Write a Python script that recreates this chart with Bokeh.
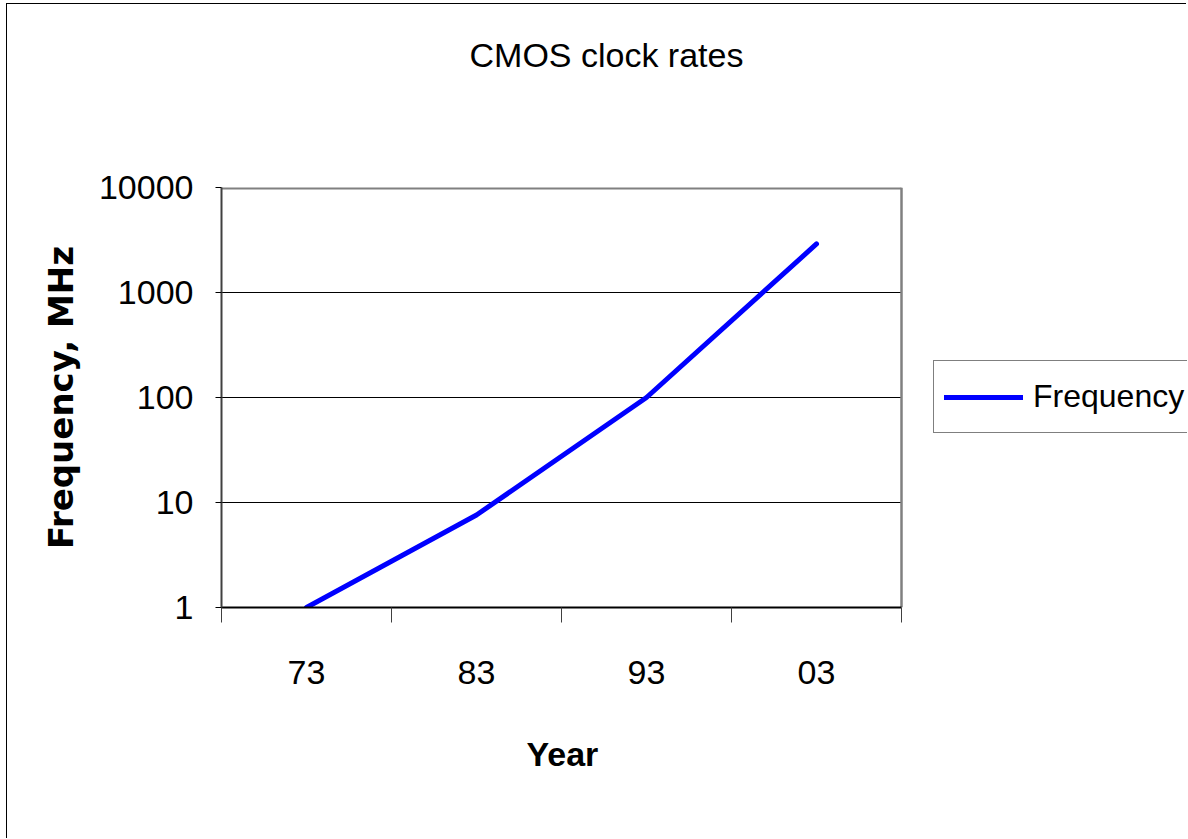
from bokeh.plotting import figure
from bokeh.models import (Range1d, FixedTicker, NumeralTickFormatter,
                          Legend, LegendItem, Title)
from bokeh.embed import file_html
from bokeh.resources import INLINE

# ---- data ----
years = ["73", "83", "93", "03"]
frequency_mhz = [1, 7.6, 100, 2900]
y_ticks = [1, 10, 100, 1000, 10000]
grid_ticks = [10, 100, 1000]

title_text = "CMOS clock rates"
x_label = "Year"
y_label = "Frequency, MHz"
series_name = "Frequency"

FONT = "Liberation Sans"

# ---- layout (pixels) ----
CANVAS_W, CANVAS_H = 1180, 835      # canvas starts at page (7, 4)
LEFT, TOP, BOTTOM = 214, 183, 232
FRAME_W = CANVAS_W - LEFT           # frame runs to the right edge (legend lives there)
PLOT_W = 680                        # visible plot area width inside the frame

n = len(years)
x_pos = [i + 0.5 for i in range(n)]
bounds = [i for i in range(n + 1)]
x_end = n * FRAME_W / PLOT_W

p = figure(width=CANVAS_W, height=CANVAS_H, output_backend="svg",
           toolbar_location=None, title=None,
           x_range=Range1d(0, x_end), y_range=Range1d(y_ticks[0], y_ticks[-1]),
           y_axis_type="log",
           min_border_left=LEFT, min_border_right=0, min_border_top=TOP,
           min_border_bottom=BOTTOM)
p.styles = {"margin-left": "6px", "margin-top": "3px",
            "border-left": "1px solid black", "border-top": "1px solid black"}

p.background_fill_color = "white"
p.border_fill_color = "white"
p.outline_line_color = None
p.xgrid.visible = False
p.ygrid.visible = False

# horizontal grid lines across the plot area
p.segment(x0=[bounds[0]] * len(grid_ticks), y0=grid_ticks,
          x1=[bounds[-1]] * len(grid_ticks), y1=grid_ticks,
          line_color="black", line_width=1)

# plot-area border: top (half clipped by the frame) and right
p.line([bounds[0], bounds[-1]], [y_ticks[-1], y_ticks[-1]],
       line_color="#808080", line_width=4)
p.line([bounds[-1], bounds[-1]], [y_ticks[0], y_ticks[-1]],
       line_color="#808080", line_width=2.5)

r = p.line(x_pos, frequency_mhz, line_color="#0000FF", line_width=5,
           line_cap="round", line_join="round")

# y axis
ya = p.yaxis[0]
ya.ticker = FixedTicker(ticks=y_ticks)
ya.formatter = NumeralTickFormatter(format="0")
ya.major_tick_out = 6
ya.major_tick_in = 0
ya.minor_tick_out = 0
ya.minor_tick_in = 0
ya.major_tick_line_color = "black"
ya.axis_line_color = "#404040"
ya.axis_line_width = 2
ya.major_label_standoff = 22
ya.major_label_text_font = FONT
ya.major_label_text_font_size = "34px"
ya.major_label_text_color = "black"
ya.axis_label = y_label
ya.axis_label_text_font = "DejaVu Sans"
ya.axis_label_text_font_style = "bold"
ya.axis_label_text_font_size = "34px"
ya.axis_label_text_color = "black"
ya.axis_label_standoff = 15

# x axis
xa = p.xaxis[0]
xa.bounds = (bounds[0], bounds[-1])
xa.ticker = FixedTicker(ticks=x_pos, minor_ticks=bounds)
xa.major_label_overrides = {xp: lab for xp, lab in zip(x_pos, years)}
xa.major_tick_out = 0
xa.major_tick_in = 0
xa.minor_tick_out = 15
xa.minor_tick_in = 0
xa.minor_tick_line_color = "#404040"
xa.minor_tick_line_width = 1
xa.axis_line_color = "black"
xa.axis_line_width = 2
xa.major_label_standoff = 38
xa.major_label_text_font = FONT
xa.major_label_text_font_size = "34px"
xa.major_label_text_color = "black"

# x axis title, below the tick labels
p.add_layout(Title(text=x_label, align="left", offset=305, vertical_align="top",
                   standoff=97, text_font=FONT, text_font_style="bold",
                   text_font_size="34px", text_color="black"), "below")

# chart title: a thin spacer next to the frame, then the title itself
p.add_layout(Title(text=" ", text_font_size="1px", standoff=111), "above")
p.add_layout(Title(text=title_text, align="left", offset=248,
                   vertical_align="bottom", standoff=0, text_font=FONT,
                   text_font_style="normal", text_font_size="34px",
                   text_color="black"), "above")

# legend
legend = Legend(items=[LegendItem(label=series_name, renderers=[r])],
                location=(712, 174), orientation="vertical",
                border_line_color="black", border_line_width=1,
                background_fill_color="white", background_fill_alpha=1,
                padding=10, spacing=0, margin=0, glyph_width=79,
                glyph_height=30, label_standoff=10, label_height=51,
                label_text_font=FONT, label_text_font_size="32px",
                label_text_color="black")
p.add_layout(legend, "center")

open("out.html", "w").write(file_html(p, INLINE))
